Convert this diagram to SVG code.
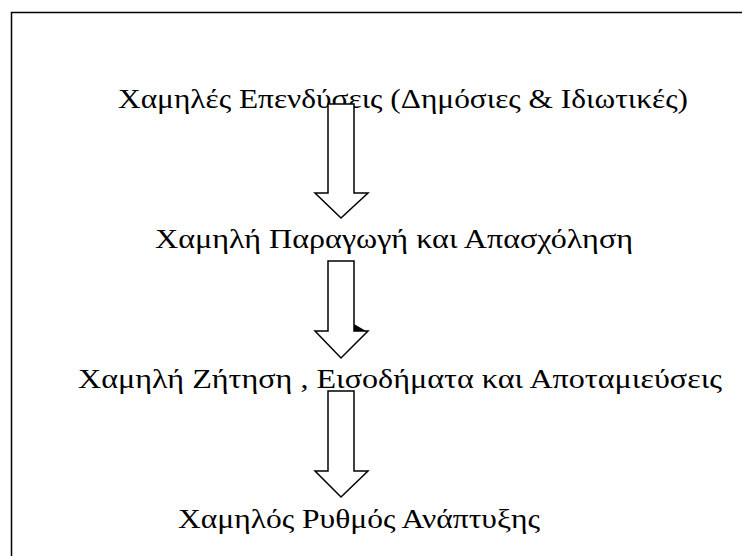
<svg xmlns="http://www.w3.org/2000/svg" width="742" height="556" viewBox="0 0 742 556">
<style>
.t{font-family:'Liberation Serif','Times New Roman',serif;font-size:28px;fill:#000}
.a{fill:#fff;stroke:#000;stroke-width:1.5;stroke-linejoin:miter}
</style>
<rect x="0" y="0" width="742" height="556" fill="#fff"/>
<rect x="11.5" y="12.5" width="760" height="600" fill="none" stroke="#000" stroke-width="1.5"/>
<g id="n1"><text class="t" x="118" y="108" textLength="570" lengthAdjust="spacingAndGlyphs">Χαμηλές Επενδύσεις (Δημόσιες &amp; Ιδιωτικές)</text></g>
<g id="n2"><text class="t" x="155" y="248" textLength="478" lengthAdjust="spacingAndGlyphs">Χαμηλή Παραγωγή και Απασχόληση</text></g>
<g id="n3"><text class="t" x="78" y="388" textLength="644" lengthAdjust="spacingAndGlyphs">Χαμηλή Ζήτηση , Εισοδήματα και Αποταμιεύσεις</text></g>
<g id="n4"><text class="t" x="178" y="528" textLength="362" lengthAdjust="spacingAndGlyphs">Χαμηλός Ρυθμός Ανάπτυξης</text></g>
<g id="connectors">
<path class="a" d="M328,104 H354 V193 H368 L341,218 L315,193 H328 Z"/>
<path class="a" d="M328,261 H354 V331 H368 L341,358 L315,331 H328 Z"/>
<path d="M354,324 L354,331 L366,331 Z" fill="#000"/>
<path class="a" d="M328,391 H354 V471 H368 L341,497 L315,471 H328 Z"/>
</g>
</svg>
